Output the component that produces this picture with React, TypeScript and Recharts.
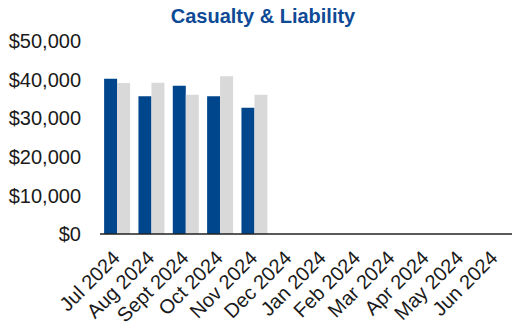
import React from "react";
import { BarChart, Bar, XAxis, YAxis } from "recharts";

const months = [
  "Jul 2024", "Aug 2024", "Sept 2024", "Oct 2024", "Nov 2024", "Dec 2024",
  "Jan 2024", "Feb 2024", "Mar 2024", "Apr 2024", "May 2024", "Jun 2024",
];
const currentYear: (number | null)[] = [40200, 35700, 38400, 35700, 32700, null, null, null, null, null, null, null];
const priorYear: (number | null)[] = [39100, 39200, 36100, 40900, 36100, null, null, null, null, null, null, null];
const yTicks = [0, 10000, 20000, 30000, 40000, 50000];

const data = months.map((m, i) => ({ month: m, current: currentYear[i], prior: priorYear[i] }));

const fmt = (v: number) => "$" + v.toLocaleString("en-US");
const font = "'Liberation Sans', Arial, sans-serif";

const MonthTick = (props: any) => {
  const { x, y, payload } = props;
  return (
    <text
      x={x}
      y={y}
      dy={5.7}
      transform={`rotate(-45 ${x} ${y})`}
      textAnchor="end"
      fill="#1a1a1a"
      fontSize={20}
      fontFamily={font}
    >
      {payload.value}
    </text>
  );
};

export default function App() {
  return (
    <div style={{ position: "absolute", left: 0, top: 0, width: 512, height: 326, background: "#fff" }}>
      <div
        style={{
          position: "absolute",
          left: 263,
          top: 5,
          transform: "translateX(-50%)",
          whiteSpace: "nowrap",
          fontFamily: font,
          fontWeight: "bold",
          fontSize: 20,
          color: "#0E4A96",
          lineHeight: "22px",
        }}
      >
        Casualty &amp; Liability
      </div>
      <BarChart
        width={512}
        height={326}
        data={data}
        margin={{ top: 41, right: 0, bottom: 0, left: 0 }}
        barCategoryGap="12%"
        barGap={0}
      >
        <XAxis
          dataKey="month"
          height={92}
          interval={0}
          tickLine={false}
          tickSize={0}
          tickMargin={21}
          axisLine={{ stroke: "#222", strokeWidth: 1.5 }}
          tick={<MonthTick />}
        />
        <YAxis
          width={100}
          domain={[0, 50000]}
          ticks={yTicks}
          tickFormatter={fmt}
          axisLine={false}
          tickLine={false}
          tickSize={0}
          tickMargin={19}
          tick={{ fill: "#1a1a1a", fontSize: 20, fontFamily: font }}
        />
        <Bar dataKey="current" fill="#00468C" isAnimationActive={false} />
        <Bar dataKey="prior" fill="#D9D9D9" isAnimationActive={false} />
      </BarChart>
    </div>
  );
}
